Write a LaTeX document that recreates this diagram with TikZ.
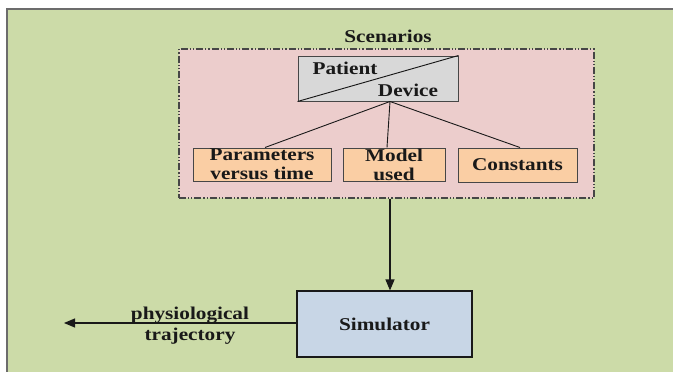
\documentclass[tikz,border=0pt]{standalone}
\usepackage{fontspec}
\newfontfamily\figfont{Liberation Serif}[FakeStretch=1.18]
\usetikzlibrary{arrows.meta}
\definecolor{panelgreen}{RGB}{204,219,168}
\definecolor{scenpink}{RGB}{236,205,204}
\definecolor{headgray}{RGB}{216,216,216}
\definecolor{itemorange}{RGB}{250,206,164}
\definecolor{simblue}{RGB}{200,214,230}
\definecolor{edgegray}{RGB}{70,70,70}
\definecolor{inkdark}{RGB}{25,25,25}
\tikzset{
  figtext/.style={font=\figfont\bfseries\fontsize{18}{19}\selectfont, text=inkdark},
  itembox/.style={figtext, draw=edgegray, line width=1pt, fill=itemorange, align=center, inner sep=0pt},
  linkline/.style={draw=inkdark, line width=0.9pt},
  flowarrow/.style={draw=inkdark, line width=1.1pt, -{Triangle[length=11pt,width=9pt]}},
}
\begin{document}
\begin{tikzpicture}[x=1pt, y=-1pt]
  \useasboundingbox (0,0) rectangle (673,372);
  % outer panel
  \fill[white] (0,0) rectangle (673,372);
  \fill[panelgreen] (7,9) rectangle (673,372);
  \draw[gray!85!black, line width=2pt] (7,372) -- (7,9) -- (673,9);

  % scenarios group
  \node[draw=edgegray, fill=scenpink, line width=1.1pt,
        dash pattern=on 7pt off 2pt on 1.2pt off 2pt on 1.2pt off 2pt,
        minimum width=415pt, minimum height=149pt, inner sep=0pt] (scen) at (386.5,123.5) {};
  \node[figtext] (scenlabel) at (388,36) {Scenarios};

  % patient / device header
  \node[draw=edgegray, fill=headgray, line width=1pt, minimum width=160pt,
        minimum height=45pt, inner sep=0pt] (pd) at (378,78.5) {};
  \draw[linkline] (pd.south west) -- (pd.north east);
  \node[figtext] (patient) at (345,68) {Patient};
  \node[figtext] (device) at (408,90) {Device};

  % items
  \node[itembox, minimum width=138pt, minimum height=33pt] (params) at (262,164.5)
    {Parameters\\versus time};
  \node[itembox, minimum width=102pt, minimum height=33pt] (model) at (394,164.5)
    {Model\\used};
  \node[itembox, minimum width=119pt, minimum height=34pt] (const) at (517.5,165)
    {Constants};

  \draw[linkline] ([xshift=12pt]pd.south) -- ([xshift=3pt]params.north);
  \draw[linkline] ([xshift=12pt]pd.south) -- ([xshift=-7pt]model.north);
  \draw[linkline] ([xshift=12pt]pd.south) -- ([xshift=2.5pt]const.north);

  % simulator
  \node[figtext, draw=inkdark, fill=simblue, line width=1.1pt, minimum width=175pt,
        minimum height=66pt, inner sep=0pt] (sim) at (384.5,324) {Simulator};
  \draw[flowarrow] ([xshift=3.5pt]scen.south) -- ([xshift=5.5pt]sim.north);

  % output trajectory
  \coordinate (out) at (64,323);
  \draw[flowarrow] (sim.west |- out) -- (out);
  \node[figtext, align=center, font=\figfont\bfseries\fontsize{18}{21}\selectfont]
    (traj) at (190,326) {physiological\\trajectory};
\end{tikzpicture}
\end{document}
